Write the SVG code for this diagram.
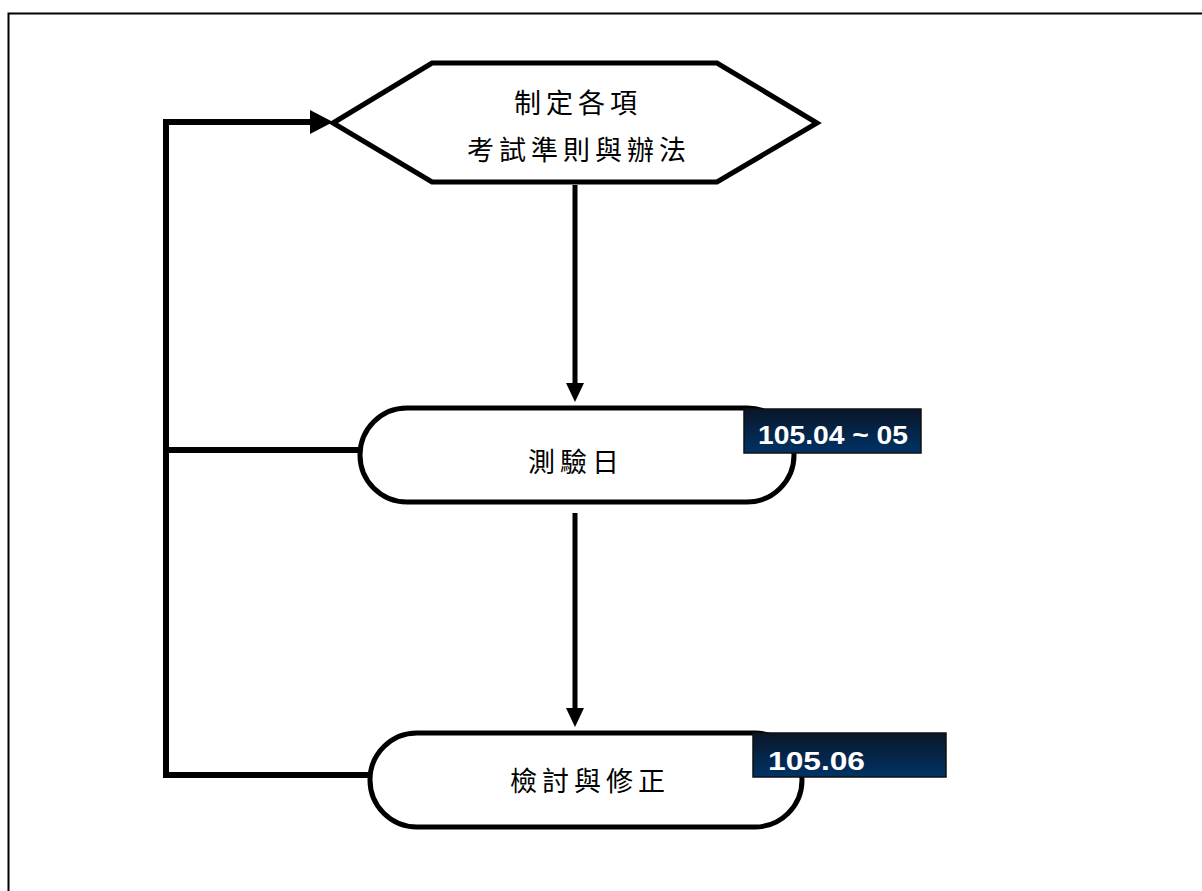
<svg xmlns="http://www.w3.org/2000/svg" width="1202" height="891" viewBox="0 0 1202 891">
<style>
.shape{fill:#fff;stroke:#000;stroke-width:5}
.conn{fill:none;stroke:#000;stroke-width:6}
.down{fill:none;stroke:#000;stroke-width:5}
.cjk{font-family:"Noto Sans CJK TC","Noto Sans CJK SC",sans-serif;font-size:27px;letter-spacing:5px;fill:#000;text-anchor:middle}
.tag{fill:url(#navy);stroke:#111;stroke-width:1.5}
.tagt{font-family:"Liberation Sans",Arial,sans-serif;font-weight:bold;font-size:26px;fill:#fff}
</style>
<defs>
<linearGradient id="navy" x1="0" y1="0" x2="0" y2="1">
<stop offset="0" stop-color="#0a1628"/>
<stop offset="1" stop-color="#003366"/>
</linearGradient>
</defs>
<rect width="1202" height="891" fill="#fff"/>
<rect x="8.5" y="13.5" width="1200" height="890" fill="none" stroke="#000" stroke-width="2"/>
<g id="connectors">
<polyline class="conn" points="166,778 166,122 312,122"/>
<polygon points="310,110 333,122 310,134" fill="#000"/>
<line class="conn" x1="163" y1="450" x2="358" y2="450"/>
<line class="conn" x1="166" y1="775" x2="370" y2="775"/>
<line class="down" x1="575" y1="185" x2="575" y2="385"/>
<polygon points="566,383 584,383 575,402" fill="#000"/>
<line class="down" x1="575" y1="513" x2="575" y2="710"/>
<polygon points="566,708 584,708 575,727" fill="#000"/>
</g>
<g id="node-rules">
<polygon class="shape" points="333,123 432,63 717,63 817,123 717,182 432,182"/>
<text class="cjk" x="578" y="113">制定各項</text>
<text class="cjk" x="579" y="160">考試準則與辦法</text>
</g>
<g id="node-test">
<rect class="shape" x="360" y="408" width="434" height="94" rx="47" ry="47"/>
<text class="cjk" x="576" y="472">測驗日</text>
</g>
<g id="tag-test">
<rect class="tag" x="744" y="409" width="177" height="44"/>
<text class="tagt" x="758" y="444" textLength="150" lengthAdjust="spacingAndGlyphs">105.04 ~ 05</text>
</g>
<g id="node-review">
<rect class="shape" x="370" y="733" width="432" height="94" rx="47" ry="47"/>
<text class="cjk" x="590" y="791">檢討與修正</text>
</g>
<g id="tag-review">
<rect class="tag" x="753" y="733" width="193" height="44"/>
<text class="tagt" x="768" y="770" textLength="97" lengthAdjust="spacingAndGlyphs">105.06</text>
</g>
</svg>
